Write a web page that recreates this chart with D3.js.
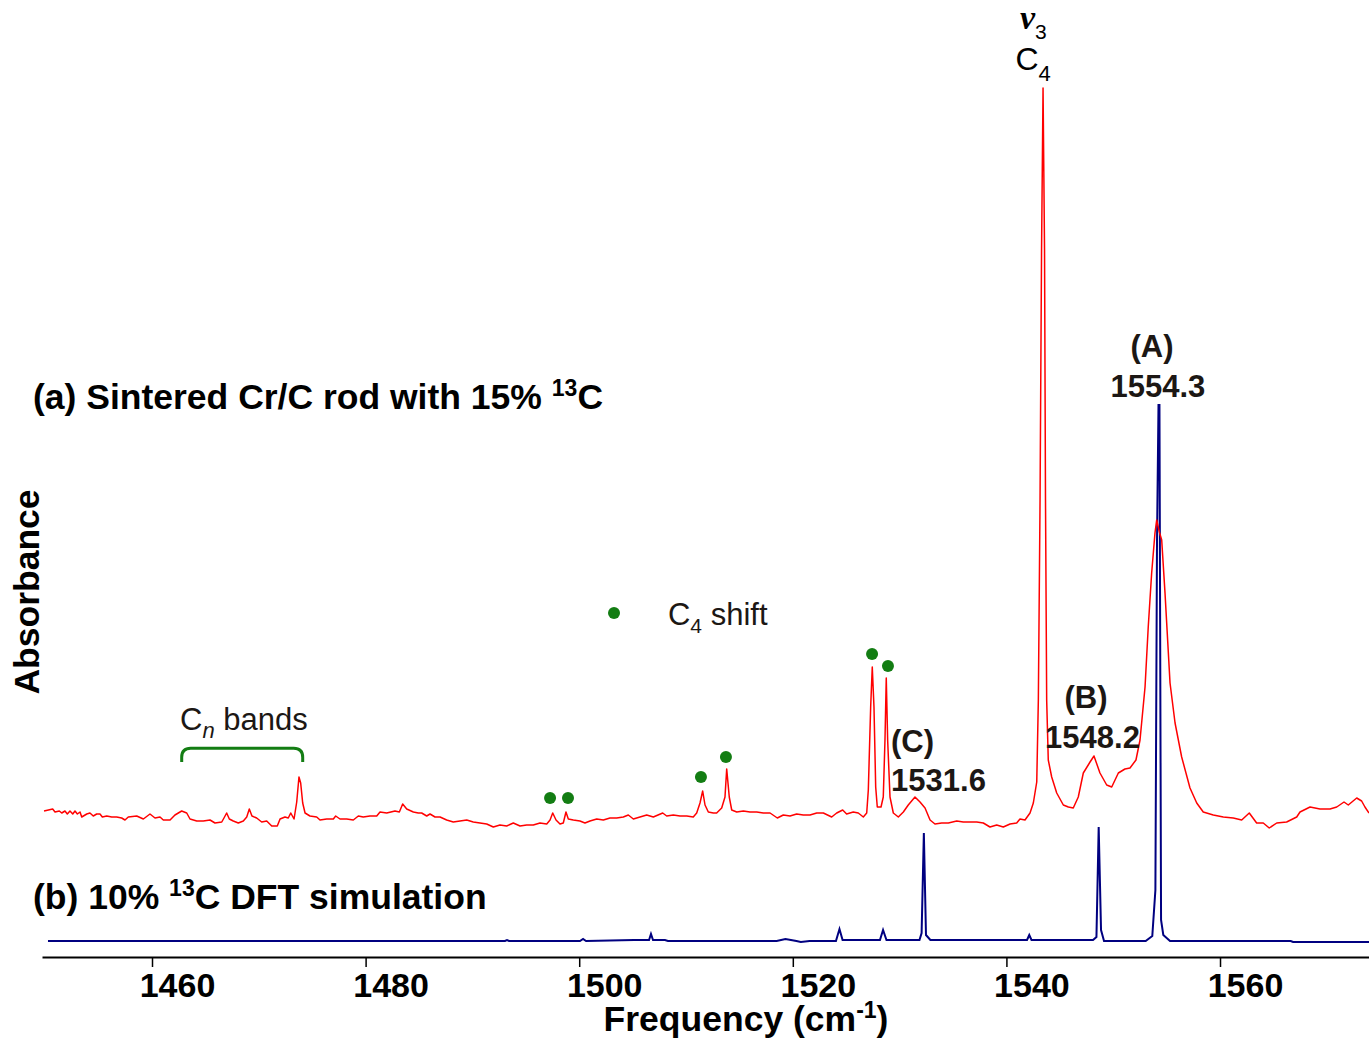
<!DOCTYPE html>
<html>
<head>
<meta charset="utf-8">
<script src="https://cdn.jsdelivr.net/npm/d3@7"></script>
<style>
  body { margin: 0; background: #fff; }
  svg text { font-family: "Liberation Sans", Arial, sans-serif; }
</style>
</head>
<body>
<svg id="chart" width="1369" height="1040"></svg>
<script>
// --- data (frequency in cm-1, absorbance in arbitrary units) ---

// (a) measured spectrum, Cr/C rod with 15% 13C
const redSpectrum = [
  [1449.89, 0.130], [1450.70, 0.132], [1450.92, 0.129], [1451.32, 0.130], [1451.55, 0.128],
  [1451.85, 0.130], [1452.07, 0.127], [1452.32, 0.130], [1452.58, 0.127], [1452.79, 0.130],
  [1453.01, 0.127], [1453.26, 0.129], [1453.42, 0.124], [1453.89, 0.127], [1454.19, 0.128],
  [1454.50, 0.125], [1454.82, 0.127], [1455.13, 0.127], [1455.35, 0.124], [1455.76, 0.125],
  [1456.23, 0.124], [1456.69, 0.124], [1457.16, 0.123], [1457.47, 0.121], [1457.78, 0.124],
  [1458.57, 0.125], [1459.19, 0.122], [1459.81, 0.127], [1460.28, 0.123], [1460.75, 0.124],
  [1461.06, 0.121], [1461.69, 0.121], [1462.15, 0.126], [1462.78, 0.130], [1463.25, 0.128],
  [1463.56, 0.122], [1464.19, 0.120], [1464.80, 0.120], [1465.43, 0.121], [1465.90, 0.118],
  [1466.53, 0.119], [1466.74, 0.123], [1466.99, 0.128], [1467.24, 0.122], [1467.61, 0.120],
  [1468.08, 0.118], [1468.55, 0.120], [1468.87, 0.124], [1469.11, 0.132], [1469.36, 0.125],
  [1469.80, 0.123], [1470.27, 0.119], [1470.74, 0.120], [1471.21, 0.115], [1471.73, 0.115],
  [1471.99, 0.122], [1472.45, 0.124], [1472.76, 0.123], [1472.99, 0.128], [1473.30, 0.122],
  [1473.55, 0.139], [1473.76, 0.164], [1473.92, 0.158], [1474.11, 0.138], [1474.33, 0.128],
  [1474.79, 0.125], [1475.42, 0.124], [1475.73, 0.121], [1476.36, 0.122], [1476.98, 0.122],
  [1477.20, 0.125], [1477.60, 0.122], [1478.23, 0.122], [1478.85, 0.121], [1479.32, 0.125],
  [1479.78, 0.124], [1480.41, 0.125], [1481.04, 0.125], [1481.35, 0.129], [1481.98, 0.128],
  [1482.75, 0.130], [1483.16, 0.129], [1483.47, 0.137], [1483.85, 0.132], [1484.47, 0.129],
  [1484.93, 0.128], [1485.25, 0.128], [1485.72, 0.125], [1486.03, 0.127], [1486.50, 0.124],
  [1486.97, 0.124], [1487.59, 0.121], [1488.21, 0.119], [1488.84, 0.120], [1489.47, 0.121],
  [1490.08, 0.119], [1490.71, 0.118], [1491.34, 0.117], [1491.96, 0.114], [1492.58, 0.116],
  [1493.21, 0.115], [1493.83, 0.118], [1494.46, 0.115], [1495.08, 0.116], [1495.70, 0.116],
  [1496.33, 0.118], [1496.96, 0.117], [1497.27, 0.121], [1497.52, 0.128], [1497.83, 0.121],
  [1498.20, 0.117], [1498.51, 0.118], [1498.76, 0.129], [1498.98, 0.122], [1499.45, 0.121],
  [1500.07, 0.120], [1500.54, 0.118], [1501.01, 0.120], [1501.64, 0.122], [1502.26, 0.121],
  [1502.88, 0.123], [1503.51, 0.123], [1504.13, 0.124], [1504.60, 0.126], [1505.07, 0.122],
  [1505.69, 0.124], [1506.32, 0.126], [1506.94, 0.124], [1507.82, 0.128], [1508.19, 0.125],
  [1508.81, 0.126], [1509.44, 0.125], [1510.07, 0.125], [1510.68, 0.124], [1511.00, 0.128],
  [1511.31, 0.138], [1511.56, 0.150], [1511.78, 0.136], [1512.09, 0.129], [1512.56, 0.128],
  [1512.87, 0.128], [1513.34, 0.133], [1513.65, 0.144], [1513.81, 0.172], [1514.05, 0.144],
  [1514.28, 0.131], [1514.75, 0.129], [1515.37, 0.130], [1515.99, 0.129], [1516.62, 0.129],
  [1517.24, 0.128], [1517.87, 0.128], [1518.55, 0.123], [1519.11, 0.126], [1519.74, 0.125],
  [1520.36, 0.127], [1520.98, 0.126], [1521.61, 0.126], [1522.24, 0.128], [1522.86, 0.128],
  [1523.64, 0.124], [1524.11, 0.128], [1524.67, 0.131], [1525.04, 0.127], [1525.66, 0.129],
  [1526.13, 0.128], [1526.60, 0.124], [1526.92, 0.128], [1527.07, 0.151], [1527.29, 0.234],
  [1527.44, 0.274], [1527.60, 0.234], [1527.76, 0.154], [1527.91, 0.134], [1528.26, 0.134],
  [1528.47, 0.144], [1528.63, 0.201], [1528.75, 0.263], [1528.88, 0.201], [1529.10, 0.144],
  [1529.41, 0.128], [1529.88, 0.124], [1530.35, 0.129], [1530.81, 0.136], [1531.44, 0.144],
  [1531.91, 0.139], [1532.38, 0.133], [1532.85, 0.121], [1533.31, 0.117], [1533.94, 0.118],
  [1534.56, 0.118], [1535.35, 0.120], [1535.96, 0.119], [1536.59, 0.119], [1537.22, 0.119],
  [1537.84, 0.118], [1538.46, 0.114], [1539.09, 0.116], [1539.71, 0.114], [1540.34, 0.117],
  [1540.96, 0.118], [1541.27, 0.122], [1541.74, 0.121], [1542.21, 0.128], [1542.52, 0.138],
  [1542.84, 0.159], [1542.99, 0.241], [1543.15, 0.441], [1543.29, 0.691], [1543.43, 0.853],
  [1543.57, 0.691], [1543.66, 0.441], [1543.77, 0.241], [1543.92, 0.181], [1544.24, 0.164],
  [1544.71, 0.148], [1545.33, 0.136], [1545.80, 0.134], [1546.26, 0.133], [1546.73, 0.144],
  [1547.20, 0.168], [1547.83, 0.179], [1548.20, 0.185], [1548.76, 0.168], [1549.39, 0.156],
  [1549.86, 0.154], [1550.48, 0.168], [1551.10, 0.172], [1551.57, 0.173], [1552.13, 0.181],
  [1552.51, 0.201], [1552.98, 0.254], [1553.28, 0.314], [1553.60, 0.368], [1553.91, 0.408],
  [1554.07, 0.421], [1554.32, 0.409], [1554.54, 0.401], [1554.85, 0.348], [1555.32, 0.258],
  [1555.79, 0.218], [1556.41, 0.184], [1557.19, 0.153], [1557.82, 0.138], [1558.43, 0.129],
  [1559.37, 0.126], [1560.31, 0.124], [1561.24, 0.123], [1562.03, 0.121], [1562.74, 0.128],
  [1563.43, 0.118], [1564.05, 0.118], [1564.61, 0.113], [1565.31, 0.118], [1566.24, 0.119],
  [1567.18, 0.124], [1567.49, 0.129], [1568.43, 0.134], [1569.36, 0.132], [1570.30, 0.132],
  [1570.93, 0.134], [1571.61, 0.139], [1572.01, 0.136], [1572.80, 0.143], [1573.26, 0.140],
  [1573.57, 0.134], [1573.95, 0.128]
];

// (b) 10% 13C DFT simulation
const dftSpectrum = [
  [1450.26, 0.000], [1493.05, 0.000], [1493.24, 0.001], [1493.43, 0.000], [1500.07, 0.000],
  [1500.36, 0.002], [1500.64, 0.000], [1505.13, 0.001], [1506.54, 0.001], [1506.72, 0.007],
  [1506.91, 0.001], [1508.03, 0.001], [1508.31, 0.000], [1518.49, 0.000], [1519.31, 0.002],
  [1520.34, 0.000], [1520.75, -0.001], [1521.57, 0.000], [1524.04, 0.000], [1524.37, 0.012],
  [1524.66, 0.001], [1528.16, 0.001], [1528.45, 0.011], [1528.77, 0.001], [1531.86, 0.001],
  [1532.06, 0.008], [1532.27, 0.108], [1532.47, 0.006], [1532.88, 0.001], [1541.93, 0.001],
  [1542.14, 0.006], [1542.35, 0.001], [1548.11, 0.001], [1548.43, 0.004], [1548.64, 0.114],
  [1548.86, 0.011], [1549.14, 0.000], [1553.04, 0.000], [1553.66, 0.005], [1553.95, 0.051],
  [1554.10, 0.400], [1554.24, 0.536], [1554.33, 0.536], [1554.48, 0.021], [1554.69, 0.006],
  [1555.32, 0.000], [1566.62, 0.000], [1566.84, -0.001], [1573.95, -0.001]
];

// C4 isotopic shift peaks marked with green dots
const shiftFreq = [1497.27, 1498.95, 1511.40, 1513.74, 1527.42, 1528.91];
const shiftAbs  = [0.143, 0.143, 0.164, 0.184, 0.287, 0.275];

// labelled bands: tag, wavenumber
const bandTags   = ["(A)", "(B)", "(C)"];
const bandValues = ["1554.3", "1548.2", "1531.6"];

const xTicks = [1460, 1480, 1500, 1520, 1540, 1560];

// --- chart setup ---
const svg = d3.select("#chart");
const ink = "#1c1714";
const green = "#137d13";

const x = d3.scaleLinear().domain([1449.7, 1573.95]).range([42, 1369]);
const y = d3.scaleLinear().domain([0, 1]).range([941, -59]);

const line = d3.line().x(d => x(d[0])).y(d => y(d[1]));

// x axis
const axisG = svg.append("g")
    .attr("transform", "translate(0,957)")
    .call(d3.axisBottom(x).tickValues(xTicks).tickSize(10).tickSizeOuter(0).tickFormat(d3.format("d")));
axisG.select(".domain").attr("stroke", "#000").attr("stroke-width", 2);
axisG.selectAll(".tick line").attr("stroke", "#000").attr("stroke-width", 1.5);
axisG.selectAll(".tick text")
    .attr("y", 40).attr("dy", 0).attr("dx", 25)
    .attr("fill", "#000")
    .style("font-family", "'Liberation Sans', Arial, sans-serif")
    .style("font-size", "34px").style("font-weight", "bold");

const xlab = svg.append("text")
    .attr("x", 746).attr("y", 1031)
    .attr("text-anchor", "middle")
    .style("font-size", "35.5px").style("font-weight", "bold");
xlab.append("tspan").text("Frequency (cm");
xlab.append("tspan").attr("dy", -13).style("font-size", "23px").text("-1");
xlab.append("tspan").attr("dy", 13).text(")");

svg.append("text")
    .attr("transform", "translate(39,592) rotate(-90)")
    .attr("text-anchor", "middle")
    .style("font-size", "35.5px").style("font-weight", "bold")
    .text("Absorbance");

// spectra
svg.append("path").datum(dftSpectrum)
    .attr("fill", "none").attr("stroke", "#000080").attr("stroke-width", 2)
    .attr("d", line);

svg.append("path").datum(redSpectrum)
    .attr("fill", "none").attr("stroke", "#ff0000").attr("stroke-width", 1.5)
    .attr("stroke-linejoin", "round")
    .attr("d", line);

// panel titles
const ta = svg.append("text").attr("x", 33).attr("y", 409)
    .style("font-size", "35.5px").style("font-weight", "bold");
ta.append("tspan").text("(a) Sintered Cr/C rod with 15% ");
ta.append("tspan").attr("dy", -13).style("font-size", "23px").text("13");
ta.append("tspan").attr("dy", 13).text("C");

const tb = svg.append("text").attr("x", 33).attr("y", 909)
    .style("font-size", "35.5px").style("font-weight", "bold");
tb.append("tspan").text("(b) 10% ");
tb.append("tspan").attr("dy", -13).style("font-size", "23px").text("13");
tb.append("tspan").attr("dy", 13).text("C DFT simulation");

// shift markers
svg.selectAll("circle.shift")
    .data(shiftFreq)
    .join("circle")
    .attr("class", "shift")
    .attr("cx", d => x(d))
    .attr("cy", (d, i) => y(shiftAbs[i]))
    .attr("r", 6)
    .attr("fill", green);

// legend for the dots
svg.append("circle").attr("cx", x(1503.26)).attr("cy", y(0.328)).attr("r", 6).attr("fill", green);
const lg = svg.append("text").attr("x", x(1508.31)).attr("y", y(0.316))
    .attr("fill", ink).style("font-size", "31px");
lg.append("tspan").text("C");
lg.append("tspan").attr("dy", 8).style("font-size", "21px").text("4");
lg.append("tspan").attr("dy", -8).text(" shift");

// Cn bands bracket
const bx0 = x(1462.78), bx1 = x(1474.11), byb = y(0.179), byt = y(0.1927), r = 9;
svg.append("path")
    .attr("d", `M${bx0},${byb} L${bx0},${byt + r} Q${bx0},${byt} ${bx0 + r},${byt} L${bx1 - r},${byt} Q${bx1},${byt} ${bx1},${byt + r} L${bx1},${byb}`)
    .attr("fill", "none").attr("stroke", green).attr("stroke-width", 3);
const cn = svg.append("text").attr("x", x(1462.62)).attr("y", y(0.211))
    .attr("fill", ink).style("font-size", "31px");
cn.append("tspan").text("C");
cn.append("tspan").attr("dy", 8).style("font-size", "22px").style("font-style", "italic").text("n");
cn.append("tspan").attr("dy", -8).text(" bands");

// v3 C4 label over the main peak
const v3 = svg.append("text").attr("x", x(1541.27)).attr("y", 29).attr("fill", "#000");
v3.append("tspan").style("font-family", "'Liberation Serif', 'Times New Roman', serif")
    .style("font-style", "italic").style("font-weight", "bold").style("font-size", "34px").text("v");
v3.append("tspan").attr("dy", 10).style("font-size", "21px").text("3");
const c4 = svg.append("text").attr("x", x(1540.85)).attr("y", 70)
    .attr("fill", "#000").style("font-size", "32px");
c4.append("tspan").text("C");
c4.append("tspan").attr("dy", 11).style("font-size", "22px").text("4");

// band labels
const tagPos = [[1553.63, 0.584], [1547.45, 0.233], [1531.21, 0.189]];
const valPos = [[1554.19, 0.544], [1548.06, 0.193], [1533.64, 0.150]];
bandTags.forEach((t, i) => {
    svg.append("text")
        .attr("x", x(tagPos[i][0])).attr("y", y(tagPos[i][1]))
        .attr("text-anchor", "middle").attr("fill", ink)
        .style("font-size", "31px").style("font-weight", "bold")
        .text(t);
    svg.append("text")
        .attr("x", x(valPos[i][0])).attr("y", y(valPos[i][1]))
        .attr("text-anchor", "middle").attr("fill", ink)
        .style("font-size", "31px").style("font-weight", "bold")
        .text(bandValues[i]);
});
</script>
</body>
</html>
